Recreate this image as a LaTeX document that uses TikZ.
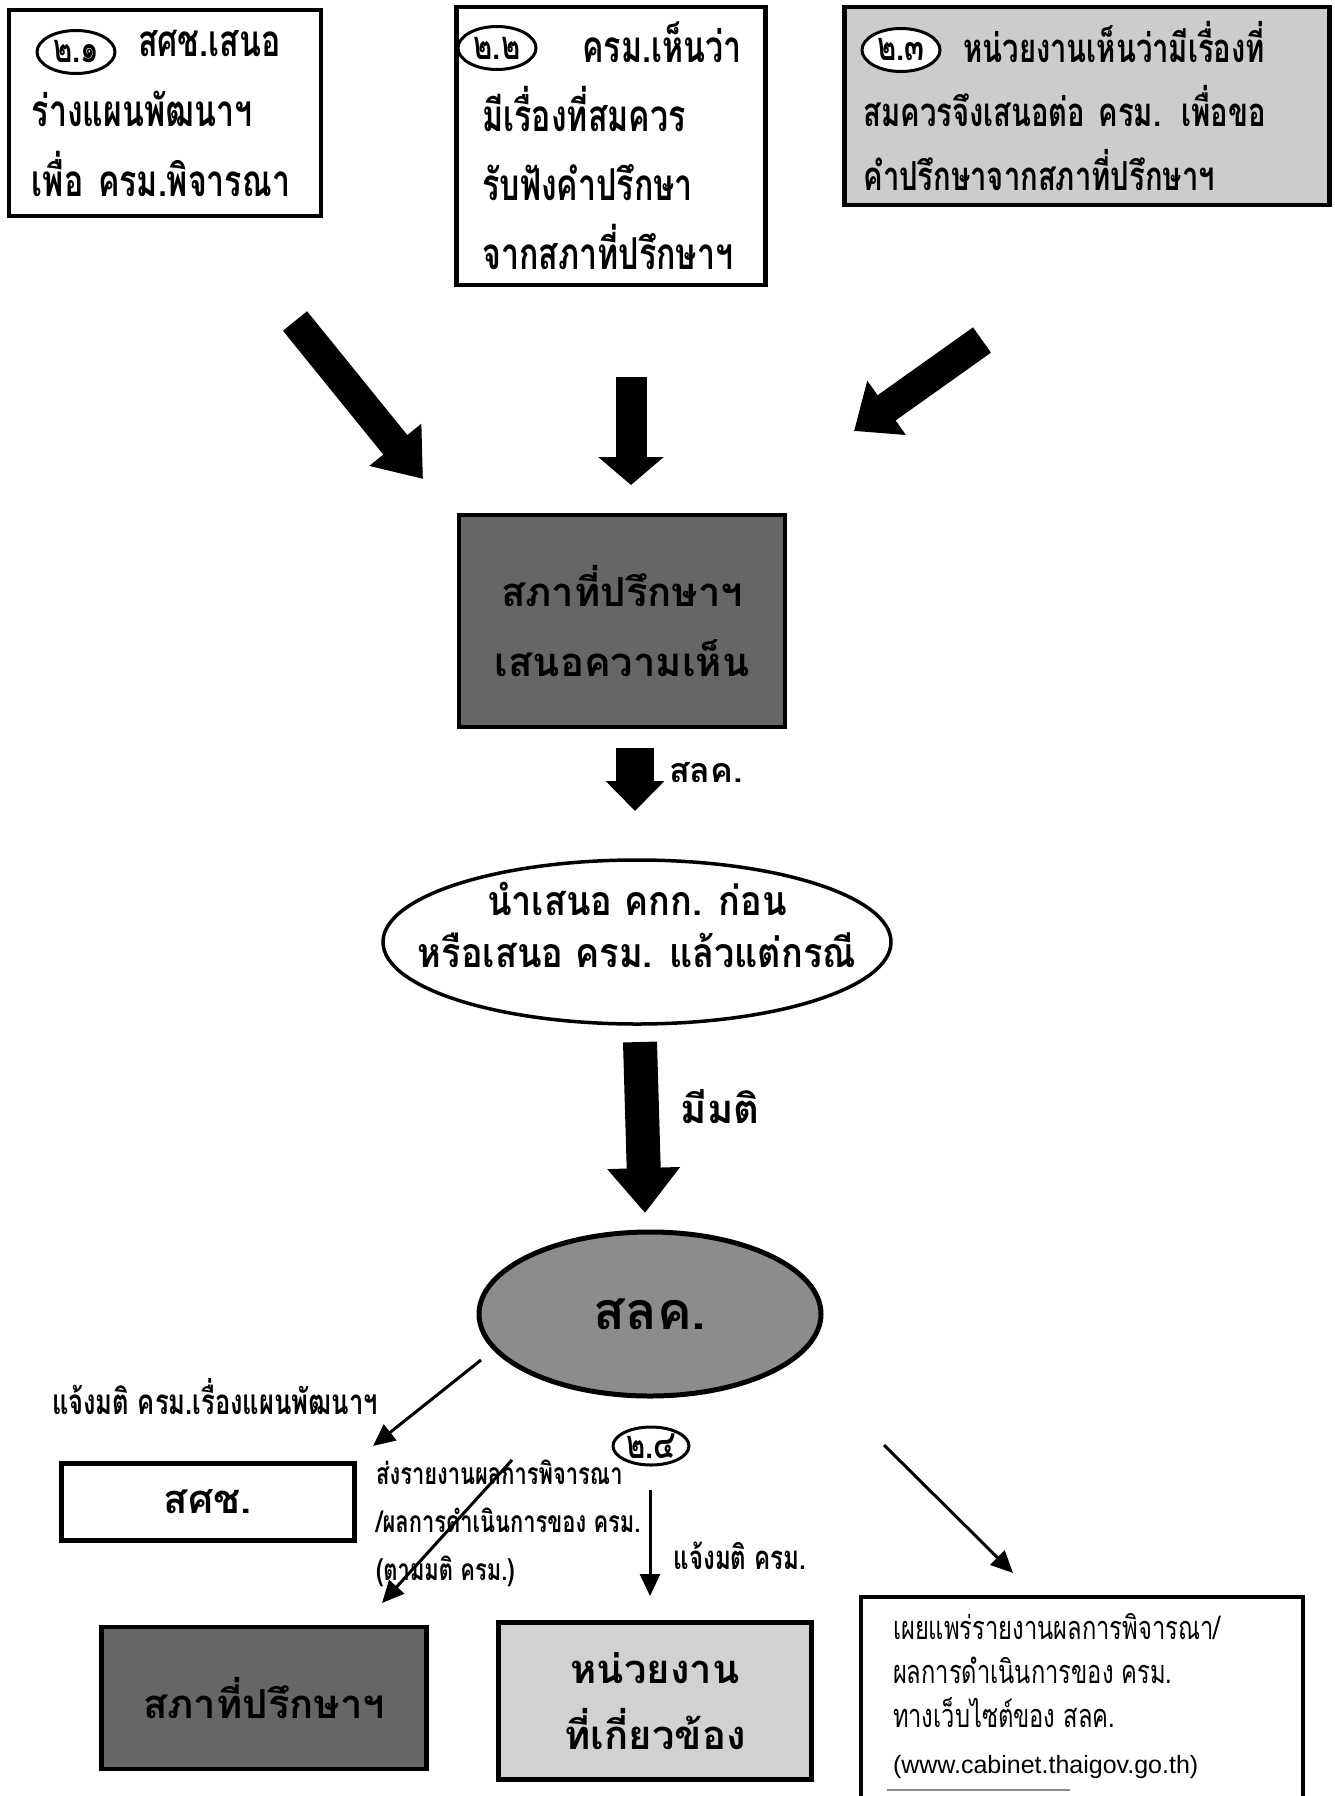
\documentclass[tikz,border=0pt]{standalone}
\usepackage{fontspec}
\setmainfont[Script=Thai]{Loma}
\newfontfamily\narrowthai[Script=Thai,FakeStretch=0.73]{Loma}
\newfontfamily\midthai[Script=Thai,FakeStretch=0.88]{Loma}
\newfontfamily\webfont{Liberation Sans}
\usetikzlibrary{arrows.meta,positioning,shapes.geometric}

\begin{document}
\begin{tikzpicture}[x=1pt, y=-1pt,
  block/.style={draw, line width=4.5pt, inner sep=0pt, align=left},
  topfont/.style={font=\narrowthai\bfseries\fontsize{44}{#1}\selectfont},
  bigfont/.style={font=\bfseries\fontsize{40}{#1}\selectfont},
  badge/.style={draw, ellipse, line width=3pt, fill=white, inner sep=-8pt, minimum width=78pt, minimum height=43pt, font=\narrowthai\bfseries\fontsize{40}{40}\selectfont},
  bigarrow/.style={line width=31pt, -{Triangle[width=64pt,length=44pt]}},
  arrow/.style={line width=3pt, -{Triangle[width=20pt,length=22pt]}},
  note/.style={inner sep=0pt, align=left, font=\narrowthai\bfseries\fontsize{33}{48}\selectfont}
]
\path[fill=white] (0,0) rectangle (1335,1796);
\useasboundingbox (0,0) rectangle (1335,1796);

\node[block, topfont=70, minimum width=312pt, minimum height=206pt, text width=266pt] (nesdb) at (165,113) {\hspace*{106pt}สศช.เสนอ\\ร่างแผนพัฒนาฯ\\เพื่อ ครม.พิจารณา};
\node[badge] (b1) at (76,52) {๒.๑};
\node[block, topfont=69, minimum width=309pt, minimum height=278pt, text width=257pt] (cabinet) at (611,146) {\hspace*{100pt}ครม.เห็นว่า\\มีเรื่องที่สมควร\\รับฟังคำปรึกษา\\จากสภาที่ปรึกษาฯ};
\node[badge] (b2) at (497,48) {๒.๒};
\node[block, topfont=64, font=\narrowthai\bfseries\fontsize{40}{64}\selectfont, fill=black!20, minimum width=485pt, minimum height=198pt, text width=447pt] (agency) at (1087,106) {\hspace*{100pt}หน่วยงานเห็นว่ามีเรื่องที่\\สมควรจึงเสนอต่อ ครม. เพื่อขอ\\คำปรึกษาจากสภาที่ปรึกษาฯ};
\node[badge] (b3) at (901,50) {๒.๓};

\coordinate (t1) at (295,321);
\coordinate (h1) at (423,479);
\coordinate (t2) at (631,377);
\coordinate (h2) at (631,485);
\coordinate (t3) at (982,340);
\coordinate (h3) at (854,431);
\draw[bigarrow] (t1) -- (h1);
\draw[bigarrow, -{Triangle[width=64pt,length=28pt]}] (t2) -- (h2);
\draw[bigarrow, -{Triangle[width=64pt,length=40pt]}] (t3) -- (h3);

\node[block, bigfont=70, fill=black!60, align=center, minimum width=326pt, minimum height=212pt] (opinion) at (622,621) {สภาที่ปรึกษาฯ\\เสนอความเห็น};

\node[draw, ellipse, line width=3.5pt, inner xsep=-160pt, inner ysep=-60pt, align=center, font=\midthai\bfseries\fontsize{41}{52}\selectfont, minimum width=508pt, minimum height=164pt] (propose) at (637,942) {นำเสนอ คกก. ก่อน\\หรือเสนอ ครม. แล้วแต่กรณี\rule[-34pt]{0pt}{34pt}};
\coordinate (t5) at (635,748);
\coordinate (h5) at (635,811);
\draw[line width=38pt, -{Triangle[width=57pt,length=30pt]}] (t5) -- (h5);
\node[font=\bfseries\fontsize{34}{34}\selectfont] (slk) at (706,773) {สลค.};

\node[draw, ellipse, line width=5pt, fill=black!45, inner sep=-10pt, font=\bfseries\fontsize{52}{52}\selectfont, minimum width=342pt, minimum height=164pt] (soc) at (650,1314) {สลค.};
\coordinate (t4) at (640,1042);
\coordinate (h4) at (645,1213);
\draw[line width=34pt, -{Triangle[width=70pt,length=45pt]}] (t4) -- (h4);
\node[bigfont=40] (mati) at (720,1107) {มีมติ};

\node[block, bigfont=40, align=center, minimum width=293pt, minimum height=77pt] (nesdbout) at (208,1502) {สศช.};
\node[block, bigfont=40, fill=black!60, align=center, minimum width=325pt, minimum height=142pt] (councilout) at (264,1698) {สภาที่ปรึกษาฯ};
\node[block, bigfont=66, fill=black!18, align=center, minimum width=313pt, minimum height=157pt] (agencyout) at (655,1701) {หน่วยงาน\\ที่เกี่ยวข้อง};
\node[draw, line width=4pt, anchor=north, inner xsep=32pt, inner ysep=16pt, align=left, font=\narrowthai\fontsize{32.5}{44}\selectfont] (web) at (1082,1595) {\parbox[t][230pt][t]{378pt}{เผยแพร่รายงานผลการพิจารณา/\\ผลการดำเนินการของ ครม.\\ทางเว็บไซต์ของ สลค.\\[2pt]{\webfont\fontsize{25}{44}\selectfont(www.cabinet.thaigov.go.th)}}};
\draw[black!45, line width=1.5pt] (887,1790) -- (1070,1790);

\node[note, font=\narrowthai\bfseries\fontsize{35}{48}\selectfont] (inform1) at (215,1397) {แจ้งมติ ครม.เรื่องแผนพัฒนาฯ};
\node[note, anchor=west, font=\narrowthai\bfseries\fontsize{30}{48}\selectfont] (report) at (376,1523) {ส่งรายงานผลการพิจารณา\\/ผลการดำเนินการของ ครม.\\(ตามมติ ครม.)};
\node[note] (inform2) at (740,1556) {แจ้งมติ ครม.};
\node[badge, minimum width=76pt, minimum height=38pt] (b4) at (651,1446) {๒.๔};

\coordinate (s1) at (481,1360);
\coordinate (e1) at (373,1446);
\coordinate (s2) at (512,1460);
\coordinate (e2) at (382,1603);
\coordinate (s3) at (650,1490);
\coordinate (e3) at (650,1596);
\coordinate (s4) at (884,1445);
\coordinate (e4) at (1013,1573);
\draw[arrow] (s1) -- (e1);
\draw[arrow] (s2) -- (e2);
\draw[arrow] (s3) -- (e3);
\draw[arrow] (s4) -- (e4);

\end{tikzpicture}
\end{document}
